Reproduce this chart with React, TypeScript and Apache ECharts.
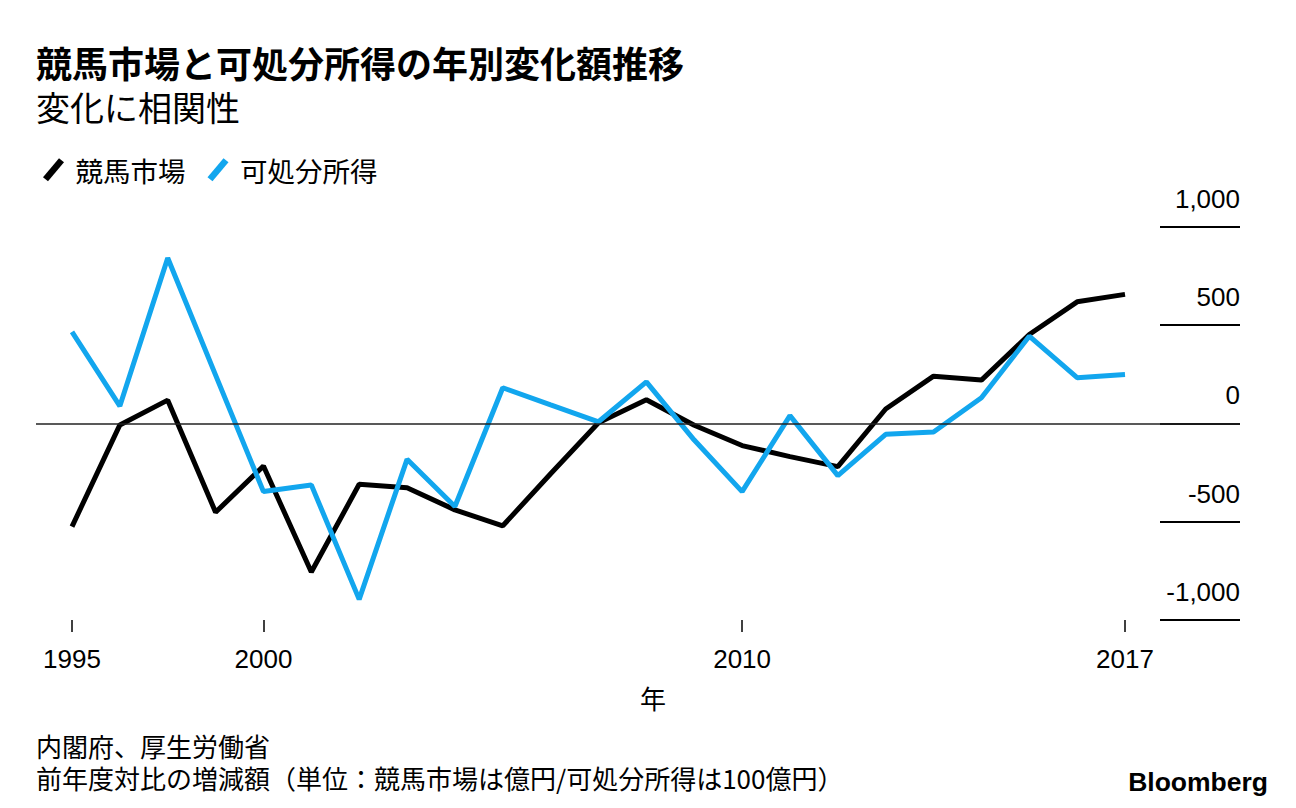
import React, { useEffect, useRef } from "react";
import * as echarts from "echarts";

// Fiscal years shown on the chart
const years = [
  1995, 1996, 1997, 1998, 1999, 2000, 2001, 2002, 2003, 2004, 2005, 2006,
  2007, 2008, 2009, 2010, 2011, 2012, 2013, 2014, 2015, 2016, 2017,
];
// 競馬市場: year-on-year change (億円)
const racingMarket = [
  -525, -8, 118, -452, -217, -756, -310, -327, -440, -521, -256, 3, 120, -10,
  -113, -169, -220, 73, 240, 220, 452, 618, 656,
];
// 可処分所得: year-on-year change (100億円)
const disposableIncome = [
  465, 88, 841, 245, -347, -313, -895, -183, -423, 181, 94, 8, 211, -85, -347,
  39, -266, -56, -44, 130, 443, 232, 249,
];
const seriesNames = ["競馬市場", "可処分所得"];
const seriesColors = ["#000000", "#12a6ee"];
// x-axis tick positions (years) and the labels printed under them
const xTickYears = [1995, 1999, 2009, 2017];
const xTickLabels = ["1995", "2000", "2010", "2017"];
const yMin = -1000;
const yMax = 1000;
const yStep = 500;

const titleText = "競馬市場と可処分所得の年別変化額推移";
const subtitleText = "変化に相関性";
const xAxisName = "年";
const sourceLines = [
  "内閣府、厚生労働省",
  "前年度対比の増減額（単位：競馬市場は億円/可処分所得は100億円）",
];
const brand = "Bloomberg";

export default function App() {
  const ref = useRef<HTMLDivElement>(null);

  useEffect(() => {
    if (!ref.current) return;
    const chart = echarts.init(ref.current, null, { renderer: "svg" });
    const latin = "'Liberation Sans', Arial, Helvetica, sans-serif";
    const cjk = "'Noto Sans CJK JP', 'Noto Sans', sans-serif";
    const slash = "path://M0,19 L16,0 L21,4 L5,23 Z";

    const plotLeft = 36;
    const plotRight = 1240;
    const firstX = 72;
    const lastX = 1125;
    const pxPerYear = (lastX - firstX) / (years[years.length - 1] - years[0]);
    const xMin = years[0] - (firstX - plotLeft) / pxPerYear;
    const xMax = years[years.length - 1] + (plotRight - lastX) / pxPerYear;

    const values = [racingMarket, disposableIncome];

    chart.setOption({
      animation: false,
      backgroundColor: "#ffffff",
      textStyle: { fontFamily: latin },
      legend: {
        left: 38,
        top: 151,
        itemWidth: 22,
        itemHeight: 23,
        itemGap: 22,
        selectedMode: false,
        textStyle: {
          fontFamily: cjk,
          fontSize: 27.5,
          color: "#000",
          padding: [0, 0, 0, 6],
        },
        data: seriesNames.map((n, i) => ({
          name: n,
          icon: slash,
          itemStyle: { color: seriesColors[i] },
        })),
      },
      grid: {
        left: plotLeft,
        right: 1296 - plotRight,
        top: 226.7,
        bottom: 188,
        containLabel: false,
      },
      xAxis: {
        type: "value",
        min: xMin,
        max: xMax,
        axisLine: { show: false, onZero: false },
        splitLine: { show: false },
        axisTick: {
          show: true,
          customValues: xTickYears,
          length: 12,
          lineStyle: { color: "#000", width: 1.5 },
        },
        axisLabel: {
          customValues: xTickYears,
          formatter: (v: number) => xTickLabels[xTickYears.indexOf(v)] ?? "",
          margin: 26,
          fontFamily: latin,
          fontSize: 26,
          color: "#000",
        },
      },
      yAxis: {
        type: "value",
        position: "right",
        min: yMin,
        max: yMax,
        interval: yStep,
        axisLine: { show: false },
        splitLine: { show: false },
        axisTick: {
          show: true,
          inside: true,
          length: 80,
          lineStyle: { color: "#000", width: 2 },
        },
        axisLabel: {
          inside: true,
          margin: 0,
          align: "right",
          verticalAlign: "bottom",
          lineHeight: 26,
          padding: [0, 0, 15, 0],
          fontFamily: latin,
          fontSize: 26,
          color: "#000",
          formatter: (v: number) => v.toLocaleString("en-US"),
        },
      },
      series: seriesNames.map((name, si) => ({
        name,
        type: "line",
        data: years.map((y, i) => [y, values[si][i]]),
        symbol: "none",
        z: 3 + si,
        lineStyle: { color: seriesColors[si], width: 5 },
        itemStyle: { color: seriesColors[si] },
        ...(si === 0
          ? {
              markLine: {
                silent: true,
                symbol: "none",
                label: { show: false },
                lineStyle: { color: "#222", width: 1.5, type: "solid" },
                data: [{ yAxis: 0 }],
              },
            }
          : {}),
      })),
      graphic: [
        {
          type: "text",
          x: 36,
          y: 84,
          style: {
            text: `{t|${titleText}}\n{s|${subtitleText}}`,
            fontFamily: cjk,
            fill: "#000",
            align: "left",
            verticalAlign: "middle",
            rich: {
              t: {
                fontFamily: cjk,
                fontSize: 36,
                lineHeight: 44,
                fontWeight: "bold",
                fill: "#000",
              },
              s: {
                fontFamily: cjk,
                fontSize: 34,
                lineHeight: 44,
                fill: "#000",
              },
            },
          },
        },
        {
          type: "text",
          x: 653,
          y: 697,
          style: {
            text: xAxisName,
            fontFamily: cjk,
            fontSize: 26,
            fill: "#000",
            align: "center",
            verticalAlign: "middle",
          },
        },
        {
          type: "text",
          x: 36,
          y: 761,
          style: {
            text: sourceLines.join("\n"),
            fontFamily: cjk,
            fontSize: 26,
            lineHeight: 32,
            fill: "#000",
            align: "left",
            verticalAlign: "middle",
          },
        },
        {
          type: "text",
          x: 1268,
          y: 782,
          style: {
            text: brand,
            fontFamily: latin,
            fontSize: 26.5,
            fontWeight: "bold",
            fill: "#000",
            align: "right",
            verticalAlign: "middle",
          },
        },
      ],
    });

    return () => chart.dispose();
  }, []);

  return (
    <div
      ref={ref}
      style={{
        position: "absolute",
        left: 0,
        top: 0,
        width: 1296,
        height: 808,
        background: "#fff",
      }}
    />
  );
}
